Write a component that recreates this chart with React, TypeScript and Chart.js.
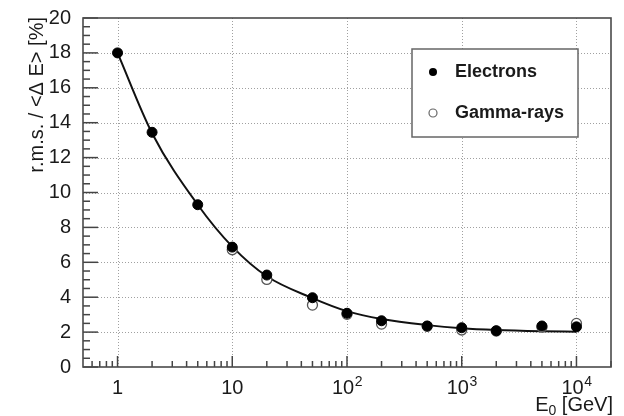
import React, { useEffect, useRef } from "react";
import { Chart, registerables } from "chart.js";

Chart.register(...registerables);

// ---- Data ----
const electronEnergies = [1, 2, 5, 10, 20, 50, 100, 200, 500, 1000, 2000, 5000, 10000];
const electronValues = [18.0, 13.45, 9.3, 6.87, 5.27, 3.97, 3.08, 2.65, 2.35, 2.25, 2.08, 2.35, 2.3];

const gammaEnergies = [10, 20, 50, 100, 200, 500, 1000, 2000, 5000, 10000];
const gammaValues = [6.72, 5.02, 3.55, 3.02, 2.46, 2.33, 2.12, 2.06, 2.28, 2.5];

const fitEnergies = [1, 2, 5, 10, 20, 50, 100, 200, 500, 1000, 2000, 5000, 10000];
const fitValues = [18.0, 13.4, 9.3, 6.9, 5.2, 3.95, 3.2, 2.75, 2.4, 2.22, 2.12, 2.05, 2.02];

const xDecades = [1, 10, 100, 1000, 10000];
const xTickBase = ["1", "10", "10", "10", "10"];
const xTickExp = ["", "", "2", "3", "4"];

const legendLabels = ["Electrons", "Gamma-rays"];
const yTitle = "r.m.s. / <\u0394 E> [%]";
const xTitleMain = "E";
const xTitleSub = "0";
const xTitleRest = " [GeV]";

const FONT = '"Liberation Sans", Arial, Helvetica, sans-serif';
const TEXT = "#1a1a1a";

const decoPlugin = {
  id: "rootDeco",
  beforeDatasetsDraw(chart: any) {
    const { ctx, chartArea: a, scales } = chart;
    const xs = scales.x;
    const ys = scales.y;
    ctx.save();
    ctx.strokeStyle = "#a0a0a0";
    ctx.lineWidth = 1;
    ctx.setLineDash([1, 2]);
    for (let v = 2; v < 20; v += 2) {
      const y = Math.round(ys.getPixelForValue(v)) + 0.5;
      ctx.beginPath();
      ctx.moveTo(a.left, y);
      ctx.lineTo(a.right, y);
      ctx.stroke();
    }
    for (const d of xDecades) {
      const x = Math.round(xs.getPixelForValue(d)) + 0.5;
      ctx.beginPath();
      ctx.moveTo(x, a.top);
      ctx.lineTo(x, a.bottom);
      ctx.stroke();
    }
    ctx.restore();
  },
  afterDraw(chart: any) {
    const { ctx, chartArea: a, scales } = chart;
    const xs = scales.x;
    const ys = scales.y;
    ctx.save();
    ctx.setLineDash([]);
    // ticks
    ctx.strokeStyle = "#444";
    ctx.lineWidth = 1.5;
    for (let i = 0; i <= 40; i++) {
      const v = i * 0.5;
      const y = ys.getPixelForValue(v);
      const len = i % 4 === 0 ? 15 : 7;
      ctx.beginPath();
      ctx.moveTo(a.left, y);
      ctx.lineTo(a.left + len, y);
      ctx.stroke();
    }
    const xmin = xs.min;
    const xmax = xs.max;
    for (let p = -1; p <= 4; p++) {
      for (let k = 1; k <= 9; k++) {
        const v = k * Math.pow(10, p);
        if (v < xmin * 1.0001 || v > xmax) continue;
        const x = xs.getPixelForValue(v);
        const len = k === 1 ? 11 : 6;
        ctx.beginPath();
        ctx.moveTo(x, a.bottom);
        ctx.lineTo(x, a.bottom - len);
        ctx.stroke();
      }
    }
    // frame
    ctx.strokeStyle = "#4a4a4a";
    ctx.lineWidth = 1.6;
    ctx.strokeRect(a.left, a.top, a.right - a.left, a.bottom - a.top);

    // x tick labels
    ctx.fillStyle = TEXT;
    ctx.textBaseline = "alphabetic";
    ctx.textAlign = "left";
    xDecades.forEach((d, i) => {
      const x = xs.getPixelForValue(d);
      ctx.font = `20px ${FONT}`;
      const wb = ctx.measureText(xTickBase[i]).width;
      ctx.font = `14px ${FONT}`;
      const we = xTickExp[i] ? ctx.measureText(xTickExp[i]).width : 0;
      const start = x - (wb + we) / 2;
      ctx.font = `20px ${FONT}`;
      ctx.fillText(xTickBase[i], start, 394);
      if (xTickExp[i]) {
        ctx.font = `14px ${FONT}`;
        ctx.fillText(xTickExp[i], start + wb + 0.5, 386);
      }
    });

    // x title
    ctx.font = `20px ${FONT}`;
    const w1 = ctx.measureText(xTitleMain).width;
    const w3 = ctx.measureText(xTitleRest).width;
    ctx.font = `14px ${FONT}`;
    const w2 = ctx.measureText(xTitleSub).width;
    const xs0 = a.right + 2 - (w1 + w2 + w3);
    ctx.font = `20px ${FONT}`;
    ctx.fillText(xTitleMain, xs0, 411);
    ctx.fillText(xTitleRest, xs0 + w1 + w2, 411);
    ctx.font = `14px ${FONT}`;
    ctx.fillText(xTitleSub, xs0 + w1, 415);

    // y title
    ctx.save();
    ctx.translate(37, a.top - 1);
    ctx.rotate(-Math.PI / 2);
    ctx.font = `20px ${FONT}`;
    ctx.textAlign = "right";
    ctx.textBaseline = "middle";
    ctx.fillText(yTitle, 0, 0);
    ctx.restore();

    // legend
    const lx = 412, ly = 49, lw = 166, lh = 88;
    ctx.fillStyle = "#ffffff";
    ctx.fillRect(lx, ly, lw, lh);
    ctx.strokeStyle = "#666";
    ctx.lineWidth = 1.5;
    ctx.strokeRect(lx, ly, lw, lh);
    ctx.font = `bold 18px ${FONT}`;
    ctx.textAlign = "left";
    ctx.textBaseline = "middle";
    ctx.fillStyle = TEXT;
    ctx.fillText(legendLabels[0], 455, 72);
    ctx.fillText(legendLabels[1], 455, 113);
    ctx.beginPath();
    ctx.arc(433, 72, 4, 0, Math.PI * 2);
    ctx.fillStyle = "#000";
    ctx.fill();
    ctx.beginPath();
    ctx.arc(433, 113, 4, 0, Math.PI * 2);
    ctx.fillStyle = "#fff";
    ctx.fill();
    ctx.strokeStyle = "#666";
    ctx.lineWidth = 1.2;
    ctx.stroke();
    ctx.restore();
  },
};

export default function App() {
  const ref = useRef<HTMLCanvasElement | null>(null);
  useEffect(() => {
    if (!ref.current) return;
    const chart = new Chart(ref.current, {
      type: "scatter",
      data: {
        datasets: [
          {
            label: legendLabels[0],
            data: electronEnergies.map((e, i) => ({ x: e, y: electronValues[i] })),
            pointRadius: 5,
            pointBackgroundColor: "#000",
            pointBorderColor: "#000",
            pointBorderWidth: 1,
            showLine: false,
            order: 0,
          },
          {
            label: legendLabels[1],
            data: gammaEnergies.map((e, i) => ({ x: e, y: gammaValues[i] })),
            pointRadius: 5,
            pointBackgroundColor: "#fff",
            pointBorderColor: "#555",
            pointBorderWidth: 1.3,
            showLine: false,
            order: 1,
          },
          {
            label: "fit",
            data: fitEnergies.map((e, i) => ({ x: e, y: fitValues[i] })),
            showLine: true,
            pointRadius: 0,
            borderColor: "#111",
            borderWidth: 2,
            cubicInterpolationMode: "monotone",
            order: 2,
          } as any,
        ],
      },
      options: {
        animation: false,
        responsive: false,
        devicePixelRatio: 1,
        layout: { padding: { top: 18, right: 13, left: 0, bottom: 0 } },
        plugins: { legend: { display: false }, tooltip: { enabled: false }, title: { display: false } },
        scales: {
          x: {
            type: "logarithmic",
            min: 0.5,
            max: 20000,
            grid: { display: false },
            border: { display: false },
            ticks: { display: false },
            afterFit: (s: any) => {
              s.height = 49;
            },
          },
          y: {
            min: 0,
            max: 20,
            grid: { display: false },
            border: { display: false },
            ticks: {
              stepSize: 2,
              padding: 4,
              color: TEXT,
              font: { family: FONT, size: 20 },
            },
            afterFit: (s: any) => {
              s.width = 83;
            },
          },
        },
      } as any,
      plugins: [decoPlugin],
    });
    return () => chart.destroy();
  }, []);
  return (
    <div style={{ position: "fixed", left: 0, top: 0, width: 624, height: 416, background: "#fff" }}>
      <canvas ref={ref} width={624} height={416} style={{ display: "block" }} />
    </div>
  );
}
